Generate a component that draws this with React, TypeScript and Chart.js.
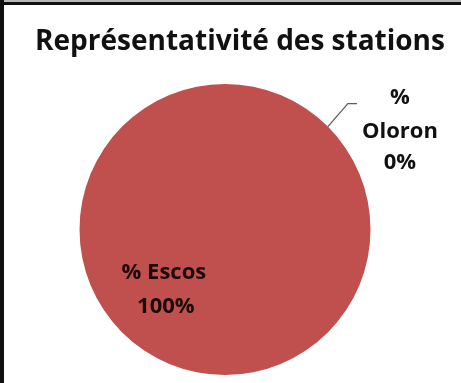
import React, { useEffect, useRef } from "react";
import { Chart, registerables } from "chart.js";

Chart.register(...registerables);

const titleText = "Représentativité des stations";
const categories = ["% Escos", "% Oloron"];
const values = [100, 0];
const percentLabels = ["100%", "0%"];
const sliceColors = ["#C0504D", "#4F81BD"];

const FONT = "'Open Sans', 'DejaVu Sans', sans-serif";

const decorPlugin = {
  id: "decor",
  beforeDraw(chart: any) {
    const ctx = chart.ctx;
    ctx.save();
    ctx.fillStyle = "#ffffff";
    ctx.fillRect(0, 0, chart.width, chart.height);
    ctx.fillStyle = "#b8b8b8";
    ctx.fillRect(0, 0, chart.width, 2);
    ctx.fillStyle = "#111111";
    ctx.fillRect(0, 2, chart.width, 3);
    ctx.fillRect(0, 0, 4, chart.height);
    ctx.restore();
  },
  afterDraw(chart: any) {
    const ctx = chart.ctx;
    const arc = chart.getDatasetMeta(0).data[0];
    const cx = arc.x;
    const cy = arc.y;
    const r = arc.outerRadius;
    ctx.save();
    ctx.fillStyle = "#111111";
    ctx.font = `bold 28px ${FONT}`;
    ctx.textAlign = "center";
    ctx.textBaseline = "middle";
    ctx.fillText(titleText, 240, 42);

    ctx.font = `bold 22px ${FONT}`;
    ctx.fillStyle = "#1a0a0a";
    const ex = cx - 0.42 * r;
    const ey = cy + 0.41 * r;
    ctx.fillText(categories[0], ex, ey - 16);
    ctx.fillText(percentLabels[0], ex + 2, ey + 18);

    const a = -Math.PI / 4;
    const px = cx + r * Math.cos(a);
    const py = cy + r * Math.sin(a);
    ctx.strokeStyle = "#595959";
    ctx.lineWidth = 1.2;
    ctx.beginPath();
    ctx.moveTo(px, py);
    ctx.lineTo(px + 20, py - 23);
    ctx.lineTo(px + 29, py - 23);
    ctx.stroke();
    const parts = categories[1].split(" ");
    ctx.fillStyle = "#111111";
    const lx = px + 72;
    ctx.fillText(parts[0], lx, py - 29);
    ctx.fillText(parts[1], lx, py + 5);
    ctx.fillText(percentLabels[1], lx, py + 36);
    ctx.restore();
  },
};

export default function App() {
  const ref = useRef<HTMLCanvasElement>(null);
  useEffect(() => {
    document.body.style.margin = "0";
    document.body.style.overflow = "hidden";
    document.documentElement.style.background = "#ffffff";
    document.documentElement.style.overflow = "hidden";
    if (!ref.current) return;
    const chart = new Chart(ref.current, {
      type: "pie",
      data: {
        labels: categories,
        datasets: [
          {
            data: values,
            backgroundColor: sliceColors,
            borderWidth: 0,
            hoverOffset: 0,
          },
        ],
      },
      options: {
        responsive: false,
        animation: false,
        rotation: 45,
        layout: { padding: { left: 79, right: 90, top: 84, bottom: 8 } },
        plugins: {
          legend: { display: false },
          title: { display: false },
          tooltip: { enabled: false },
        },
      },
      plugins: [decorPlugin],
    });
    return () => chart.destroy();
  }, []);
  return (
    <div style={{ position: "fixed", left: 0, top: 0, width: 461, height: 383, overflow: "hidden", background: "#ffffff" }}>
      <canvas
        ref={ref}
        width={461}
        height={383}
        style={{ display: "block", width: 461, height: 383 }}
      />
    </div>
  );
}
